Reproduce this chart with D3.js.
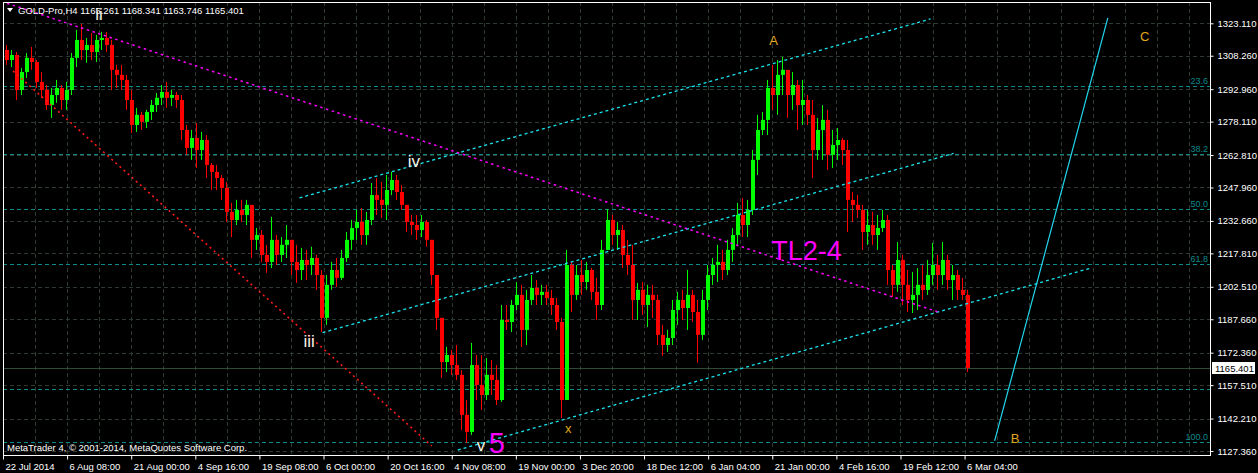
<!DOCTYPE html>
<html><head><meta charset="utf-8">
<script src="https://cdn.jsdelivr.net/npm/d3@7"></script>
<style>html,body{margin:0;padding:0;background:#000;overflow:hidden}</style>
</head><body><svg id="c" width="1258" height="473"></svg>
<script>
// ---- data (GOLD-Pro H4, grouped 5 bars per candle) ----
const opens=[1310.9,1306.3,1308.6,1292.6,1300.8,1307.3,1305.4,1296.3,1292.6,1285.7,
1290.3,1293.5,1288.0,1292.6,1307.3,1315.5,1310.9,1313.2,1310.0,1315.5,
1316.4,1313.2,1301.8,1299.5,1297.2,1288.0,1276.6,1281.2,1278.0,1282.5,
1285.7,1289.0,1291.7,1289.0,1290.3,1288.0,1274.3,1266.1,1270.6,1265.1,
1269.7,1258.3,1255.1,1252.3,1247.8,1236.8,1233.1,1237.7,1235.4,1240.0,
1224.0,1226.2,1217.1,1213.9,1224.0,1217.1,1221.7,1224.0,1213.9,1210.2,
1214.8,1212.5,1215.7,1207.9,1188.3,1203.4,1210.2,1206.6,1215.7,1224.0,
1229.4,1232.2,1226.2,1233.1,1244.5,1242.3,1240.0,1246.8,1251.4,1245.9,
1240.0,1232.2,1230.8,1228.5,1232.2,1224.0,1207.9,1188.3,1168.1,1171.3,
1166.7,1162.2,1143.9,1136.1,1166.7,1157.6,1153.0,1162.2,1159.9,1150.7,
1187.3,1186.4,1194.2,1198.8,1182.8,1196.5,1202.0,1198.8,1200.2,1197.4,
1194.2,1186.4,1150.7,1212.5,1198.8,1207.9,1204.7,1210.2,1200.2,1194.2,
1219.4,1233.1,1226.2,1228.5,1217.1,1212.5,1196.5,1201.1,1194.2,1198.8,
1196.5,1180.5,1175.9,1179.1,1191.9,1196.5,1192.8,1198.8,1191.0,1180.5,
1196.5,1207.9,1212.5,1213.9,1210.2,1219.4,1226.2,1235.4,1230.8,1237.7,
1260.6,1274.3,1278.9,1293.5,1290.3,1299.5,1301.8,1290.3,1294.9,1285.7,
1288.0,1281.2,1265.1,1274.3,1278.9,1262.9,1267.4,1269.7,1265.1,1242.3,
1240.0,1237.7,1227.6,1230.8,1226.2,1229.4,1233.1,1210.2,1203.4,1214.8,
1203.4,1196.5,1198.8,1203.4,1201.1,1207.9,1212.5,1207.9,1214.8,1205.6,
1207.9,1201.1,1198.8];
const highs=[1313.2,1310.9,1310.0,1302.7,1309.5,1312.3,1306.3,1300.8,1294.9,1293.5,
1297.2,1294.9,1296.3,1309.5,1320.1,1322.8,1316.4,1318.7,1317.8,1319.2,
1319.2,1315.5,1304.1,1304.1,1299.5,1292.6,1284.4,1282.5,1283.5,1288.0,
1291.2,1294.9,1296.3,1292.6,1291.7,1290.3,1276.6,1274.3,1277.5,1273.4,
1272.0,1259.2,1258.3,1253.7,1250.5,1240.9,1242.3,1242.3,1242.3,1240.0,
1229.4,1228.5,1221.7,1234.5,1226.2,1225.3,1230.8,1224.0,1221.7,1220.3,
1219.4,1220.8,1217.1,1210.2,1207.9,1213.9,1215.7,1219.4,1227.6,1233.1,
1237.7,1238.6,1236.8,1250.0,1252.3,1250.5,1253.7,1255.1,1253.7,1249.1,
1240.0,1235.4,1235.4,1235.4,1233.1,1224.0,1207.9,1188.3,1175.0,1173.6,
1175.9,1164.4,1150.7,1176.8,1171.3,1171.3,1169.9,1169.0,1166.7,1194.2,
1194.2,1196.5,1204.7,1203.4,1201.1,1207.9,1205.6,1203.4,1203.4,1201.1,
1197.4,1188.3,1219.4,1213.9,1212.5,1214.8,1213.9,1211.1,1206.6,1224.0,
1238.1,1235.4,1232.2,1230.8,1224.0,1221.7,1204.3,1204.7,1203.4,1203.4,
1198.8,1185.1,1182.8,1196.5,1200.2,1201.1,1210.2,1201.1,1196.5,1201.1,
1212.5,1215.7,1221.7,1219.4,1224.0,1229.4,1240.9,1243.2,1242.3,1265.1,
1281.2,1282.5,1297.2,1304.1,1306.3,1307.7,1301.8,1300.8,1297.2,1297.2,
1290.3,1288.0,1279.8,1285.7,1283.5,1274.3,1275.2,1270.6,1269.7,1245.9,
1244.5,1240.0,1237.7,1236.8,1235.4,1237.7,1235.4,1212.5,1223.0,1217.1,
1210.2,1209.3,1211.1,1212.5,1214.8,1222.6,1217.1,1223.0,1217.1,1212.5,
1210.2,1206.6,1201.1];
const lows=[1304.1,1303.1,1288.0,1290.3,1298.1,1301.8,1293.5,1289.0,1283.5,1279.8,
1286.7,1283.5,1283.5,1290.3,1303.1,1306.3,1305.0,1306.3,1305.4,1310.9,
1310.0,1292.6,1293.5,1292.6,1283.5,1272.9,1273.4,1274.3,1275.2,1278.9,
1282.5,1285.7,1284.4,1285.3,1284.4,1269.7,1262.9,1260.6,1256.9,1260.6,
1252.3,1246.8,1246.8,1242.3,1232.2,1225.3,1230.8,1232.2,1230.8,1215.7,
1219.4,1213.9,1208.9,1211.1,1212.5,1213.9,1215.7,1207.9,1204.3,1205.6,
1205.6,1207.9,1201.1,1181.8,1185.1,1201.1,1202.4,1205.6,1213.9,1219.4,
1224.0,1221.7,1221.7,1230.8,1235.4,1234.0,1233.1,1244.5,1242.3,1237.7,
1227.6,1226.2,1224.0,1225.3,1220.8,1203.4,1182.8,1160.8,1163.5,1162.2,
1159.9,1137.0,1131.0,1134.7,1150.7,1146.1,1150.7,1153.0,1148.4,1149.8,
1182.8,1181.8,1191.9,1175.0,1175.9,1194.2,1194.2,1194.2,1194.2,1189.6,
1182.8,1142.5,1150.7,1191.0,1196.5,1198.8,1201.1,1196.5,1187.3,1191.9,
1219.4,1221.7,1219.4,1211.1,1207.9,1187.3,1187.3,1189.6,1184.1,1188.3,
1175.9,1170.9,1172.7,1175.9,1185.1,1187.3,1182.8,1186.4,1167.7,1178.2,
1191.9,1203.4,1204.7,1205.6,1207.9,1213.9,1221.7,1225.3,1225.3,1235.4,
1253.7,1272.0,1272.0,1283.5,1281.2,1290.3,1279.8,1283.5,1274.3,1276.6,
1276.6,1252.3,1260.6,1260.6,1256.0,1256.9,1260.6,1258.3,1227.6,1232.2,
1234.0,1219.4,1221.7,1221.7,1219.4,1227.6,1203.4,1197.9,1200.2,1194.2,
1191.0,1190.5,1191.9,1196.5,1198.8,1203.4,1201.1,1203.4,1201.1,1196.5,
1196.5,1196.5,1163.5];
const closes=[1306.3,1308.6,1292.6,1300.8,1307.3,1305.4,1296.3,1292.6,1285.7,1290.3,
1293.5,1288.0,1292.6,1307.3,1315.5,1310.9,1313.2,1310.0,1315.5,1316.4,
1313.2,1301.8,1299.5,1297.2,1288.0,1276.6,1281.2,1278.0,1282.5,1285.7,
1289.0,1291.7,1289.0,1290.3,1288.0,1274.3,1266.1,1270.6,1265.1,1269.7,
1258.3,1255.1,1252.3,1247.8,1236.8,1233.1,1237.7,1235.4,1240.0,1224.0,
1226.2,1217.1,1213.9,1224.0,1217.1,1221.7,1224.0,1213.9,1210.2,1214.8,
1212.5,1215.7,1207.9,1188.3,1203.4,1210.2,1206.6,1215.7,1224.0,1229.4,
1232.2,1226.2,1233.1,1244.5,1242.3,1240.0,1246.8,1251.4,1245.9,1240.0,
1232.2,1230.8,1228.5,1232.2,1224.0,1207.9,1188.3,1168.1,1171.3,1166.7,
1162.2,1143.9,1136.1,1166.7,1157.6,1153.0,1162.2,1159.9,1150.7,1187.3,
1186.4,1194.2,1198.8,1182.8,1196.5,1202.0,1198.8,1200.2,1197.4,1194.2,
1186.4,1150.7,1212.5,1198.8,1207.9,1204.7,1210.2,1200.2,1194.2,1219.4,
1233.1,1226.2,1228.5,1217.1,1212.5,1196.5,1201.1,1194.2,1198.8,1196.5,
1180.5,1175.9,1179.1,1191.9,1196.5,1192.8,1198.8,1191.0,1180.5,1196.5,
1207.9,1212.5,1213.9,1210.2,1219.4,1226.2,1235.4,1230.8,1237.7,1260.6,
1274.3,1278.9,1293.5,1290.3,1299.5,1301.8,1290.3,1294.9,1285.7,1288.0,
1281.2,1265.1,1274.3,1278.9,1262.9,1267.4,1269.7,1265.1,1242.3,1240.0,
1237.7,1227.6,1230.8,1226.2,1229.4,1233.1,1210.2,1203.4,1214.8,1203.4,
1196.5,1198.8,1203.4,1201.1,1207.9,1212.5,1207.9,1214.8,1205.6,1207.9,
1201.1,1198.8,1165.4];
const barsPerCandle=5;

const priceTicks=[1323.110,1308.260,1292.960,1278.110,1262.810,1247.960,1232.660,1217.810,1202.510,1187.660,1172.360,1157.510,1142.210,1127.360];
const dateLabels=["22 Jul 2014","6 Aug 08:00","21 Aug 00:00","4 Sep 16:00","19 Sep 08:00","6 Oct 00:00","20 Oct 16:00","4 Nov 08:00","19 Nov 00:00","3 Dec 20:00","18 Dec 12:00","6 Jan 04:00","21 Jan 00:00","4 Feb 16:00","19 Feb 12:00","6 Mar 04:00"];
const barsPerDateLabel=64;
const barsPerGridLine=32;

const header="GOLD-Pro,H4  1165.261 1168.341 1163.746 1165.401";
const copyright="MetaTrader 4, \u00a9 2001-2014, MetaQuotes Software Corp.";
const lastPrice=1165.401;

const fibLevels=[23.6,38.2,50.0,61.8,100.0];
const fibHigh=1345.0, fibLow=1131.3;
const extraLevel=1155.7;

// trend lines: [bar, price] endpoints
const upperChannel=[[296,1243.2],[926,1325.1]];
const middleChannel=[[319,1181.5],[949,1263.6]];
const lowerChannel=[[454,1127.8],[1086,1211.1]];
const redLine=[[10,1301.3],[428,1129.7]];
const tl24Line=[[4,1332.3],[933,1191.1]];
const bcLine=[[990,1132.0],[1103,1325.6]];

// wave labels: [text, bar, price]
const whiteLabels=[["ii",92,1324.6],["iv",404,1257.4],["iii",300,1175.0],["v",473,1127.4]];
const goldLabels=[["x",561,1135.6],["A",765,1313.2],["B",1006,1131.0],["C",1135,1315.0]];
const wave5=["5",485,1126.5];
const tl24Label=["TL2-4",767,1214.8];

// ---- drawing ----
const svg=d3.select("#c");
const L=3,R=1210,T=2,B=455;
const x=d3.scaleLinear().domain([0,1205]).range([L,R]);
const y=d3.scaleLinear().domain([1127.36,1323.11]).range([451,23.3]);
const FONT="'Liberation Sans', Arial, sans-serif";

svg.append("rect").attr("width",1258).attr("height",473).attr("fill","#000");
svg.append("defs").append("clipPath").attr("id","plot").append("rect")
  .attr("x",L).attr("y",T).attr("width",R-L).attr("height",B-T);
const plot=svg.append("g").attr("clip-path","url(#plot)");

// grid
const gridCol="#2c3a30";
plot.selectAll(".hg").data(priceTicks).join("line")
  .attr("x1",L).attr("x2",R).attr("y1",d=>Math.round(y(d))+0.5).attr("y2",d=>Math.round(y(d))+0.5)
  .attr("stroke",gridCol).attr("stroke-dasharray","4,3");
const vgrid=d3.range(barsPerGridLine,1205,barsPerGridLine);
plot.selectAll(".vg").data(vgrid).join("line")
  .attr("y1",T).attr("y2",B).attr("x1",d=>Math.round(x(d))+0.5).attr("x2",d=>Math.round(x(d))+0.5)
  .attr("stroke",gridCol).attr("stroke-dasharray","4,3");

// fibonacci levels
const fibCol="#0b8a8a";
const fibPrice=l=>fibHigh-l/100*(fibHigh-fibLow);
plot.selectAll(".fib").data(fibLevels).join("line")
  .attr("x1",L).attr("x2",R).attr("y1",d=>Math.round(y(fibPrice(d)))+0.5).attr("y2",d=>Math.round(y(fibPrice(d)))+0.5)
  .attr("stroke",fibCol).attr("stroke-dasharray","4,3");
plot.append("line").attr("x1",L).attr("x2",R)
  .attr("y1",Math.round(y(extraLevel))+0.5).attr("y2",Math.round(y(extraLevel))+0.5)
  .attr("stroke",fibCol).attr("stroke-dasharray","4,3");
plot.selectAll(".fibt").data(fibLevels).join("text")
  .attr("x",R-2).attr("y",d=>Math.round(y(fibPrice(d)))-2).attr("text-anchor","end")
  .attr("fill",fibCol).attr("font-family",FONT).attr("font-size",9).text(d=>d.toFixed(1));

// current price line
plot.append("line").attr("x1",L).attr("x2",R)
  .attr("y1",Math.round(y(lastPrice))+0.5).attr("y2",Math.round(y(lastPrice))+0.5)
  .attr("stroke","#2f4a38");

// candles
const candles=opens.map((o,i)=>({o,h:highs[i],l:lows[i],c:closes[i],b:i*barsPerCandle+barsPerCandle/2}));
const cg=plot.append("g");
cg.selectAll(".w").data(candles).join("line")
  .attr("x1",d=>Math.round(x(d.b))+0.5).attr("x2",d=>Math.round(x(d.b))+0.5)
  .attr("y1",d=>y(d.h)).attr("y2",d=>y(d.l))
  .attr("stroke",d=>d.c>=d.o?"#00ff00":"#ff0000").attr("stroke-width",1);
cg.selectAll(".bd").data(candles).join("rect")
  .attr("x",d=>Math.round(x(d.b))-1).attr("width",4)
  .attr("y",d=>y(Math.max(d.o,d.c))).attr("height",d=>Math.max(1,Math.abs(y(d.o)-y(d.c))))
  .attr("fill",d=>d.c>=d.o?"#00ff00":"#ff0000");

// trend lines
const ln=d3.line().x(d=>x(d[0])).y(d=>y(d[1]));
[upperChannel,middleChannel,lowerChannel].forEach(p=>{
  plot.append("path").attr("d",ln(p)).attr("fill","none").attr("stroke","#19e6f0")
    .attr("stroke-width",1.3).attr("stroke-dasharray","3,3");
});
plot.append("path").attr("d",ln(redLine)).attr("fill","none").attr("stroke","#ff1a1a")
  .attr("stroke-width",1.6).attr("stroke-dasharray","2,3.5");
plot.append("path").attr("d",ln(tl24Line)).attr("fill","none").attr("stroke","#ff00ff")
  .attr("stroke-width",1.5).attr("stroke-dasharray","2.5,3.5");
plot.append("path").attr("d",ln(bcLine)).attr("fill","none").attr("stroke","#22d6ee")
  .attr("stroke-width",1.2);

// labels
plot.selectAll(".wl").data(whiteLabels).join("text")
  .attr("x",d=>x(d[1])).attr("y",d=>y(d[2])).attr("fill","#f4f2e6")
  .attr("font-family",FONT).attr("font-size",17).text(d=>d[0]);
plot.selectAll(".gl").data(goldLabels).join("text")
  .attr("x",d=>x(d[1])).attr("y",d=>y(d[2])).attr("fill","#e0a81c")
  .attr("font-family",FONT).attr("font-size",13).text(d=>d[0]);
plot.append("text").attr("x",x(wave5[1])).attr("y",y(wave5[2])).attr("fill","#ff00ff")
  .attr("font-family",FONT).attr("font-size",29).text(wave5[0]);
plot.append("text").attr("x",x(tl24Label[1])).attr("y",y(tl24Label[2])).attr("fill","#ff00ff")
  .attr("font-family",FONT).attr("font-size",27).text(tl24Label[0]);

// header and copyright
svg.append("path").attr("d","M7,8 L13,8 L10,12 Z").attr("fill","#fff");
svg.append("text").attr("x",18).attr("y",14).attr("fill","#fff").attr("font-family",FONT)
  .attr("font-size",9.5).text(header);
svg.append("text").attr("x",7).attr("y",451).attr("fill","#fff").attr("font-family",FONT)
  .attr("font-size",9.5).text(copyright);

// border
svg.append("rect").attr("x",L+0.5).attr("y",T+0.5).attr("width",R-L).attr("height",B-T)
  .attr("fill","none").attr("stroke","#fff").attr("stroke-width",1);

// price axis
const ya=svg.append("g").attr("transform",`translate(${R+0.5},0)`)
  .call(d3.axisRight(y).tickValues(priceTicks).tickFormat(d3.format(".3f")).tickSize(3).tickPadding(4));
ya.select(".domain").remove();
ya.selectAll("line").attr("stroke","#fff");
ya.selectAll("text").attr("fill","#fff").attr("font-family",FONT).attr("font-size",9.5);

// date axis
const dateBars=dateLabels.map((d,i)=>i*barsPerDateLabel);
const xa=svg.append("g").attr("transform",`translate(0,${B+0.5})`)
  .call(d3.axisBottom(x).tickValues(dateBars).tickFormat((d,i)=>dateLabels[i]).tickSize(4).tickPadding(4));
xa.select(".domain").remove();
xa.selectAll("line").attr("stroke","#fff");
xa.selectAll("text").attr("fill","#fff").attr("font-family",FONT).attr("font-size",9.5)
  .attr("text-anchor","start").attr("dx",2);

// last price tag
const ly=Math.round(y(lastPrice));
svg.append("rect").attr("x",R+2).attr("y",ly-6).attr("width",43).attr("height",12).attr("fill","#fff");
svg.append("text").attr("x",R+5).attr("y",ly+4).attr("fill","#000").attr("font-family",FONT)
  .attr("font-size",9.5).text(lastPrice.toFixed(3));
</script></body></html>
